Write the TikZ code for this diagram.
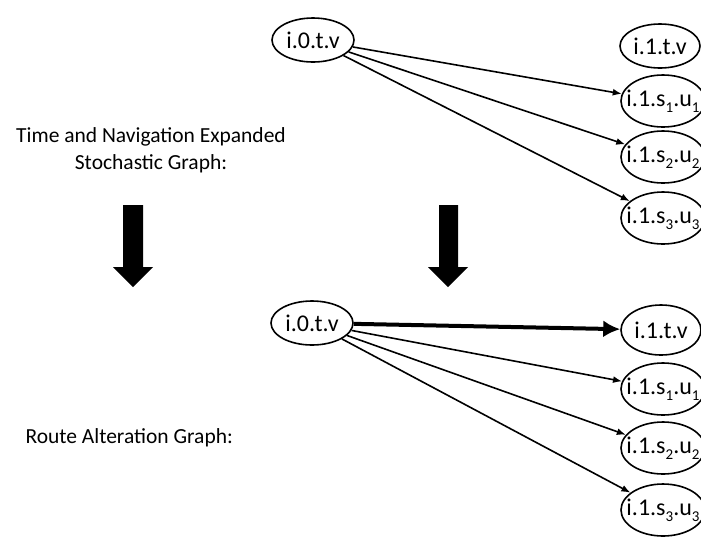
\documentclass[tikz,border=0pt]{standalone}
\usepackage{fontspec}
\setmainfont{Carlito}
\usetikzlibrary{shapes.geometric,arrows.meta}
\newcommand{\lowidx}[1]{\raisebox{-0.5ex}{\fontsize{15}{15}\selectfont #1}}
\begin{document}
\begin{tikzpicture}[x=1pt,y=-1pt,
  % the ellipse keeps its fixed size; the text sits on top as a centred label
  nd/.style={ellipse,draw,line width=1.6pt,inner sep=0pt,
    label={[font=\fontsize{24}{26}\selectfont,inner sep=0pt]center:#1}},
  st/.style={nd=#1,minimum width=82pt,minimum height=44pt},
  tv/.style={nd=#1,minimum width=80pt,minimum height=44pt},
  su/.style={nd=#1,minimum width=84pt,minimum height=52pt},
  edge/.style={line width=1.6pt,-{Latex[length=9pt,width=7pt]}},
  heavy/.style={line width=4pt,-{Latex[length=17pt,width=17pt]}},
  lbl/.style={font=\fontsize{21.5}{27}\selectfont,align=center},
  block/.style={fill=black}]
\useasboundingbox (0,0) rectangle (701,542);
\clip (0,0) rectangle (701,542);

% upper graph
\node[st={i.0.t.v}] (a0) at (313,40) {};
\node[tv={i.1.t.v}] (a1) at (660,46) {};
\node[su={i.1.s\lowidx{1}.u\lowidx{1}}] (as1) at (663,101) {};
\node[su={i.1.s\lowidx{2}.u\lowidx{2}}] (as2) at (663,157) {};
\node[su={i.1.s\lowidx{3}.u\lowidx{3}}] (as3) at (663,218) {};
\draw[edge] (a0) -- (as1);
\draw[edge] (a0) -- (as2);
\draw[edge] (a0) -- (as3);

% lower graph
\node[st={i.0.t.v}] (b0) at (312,323) {};
\node[tv={i.1.t.v},minimum height=50pt] (b1) at (661,330) {};
\node[su={i.1.s\lowidx{1}.u\lowidx{1}}] (bs1) at (663,389) {};
\node[su={i.1.s\lowidx{2}.u\lowidx{2}}] (bs2) at (663,448) {};
\node[su={i.1.s\lowidx{3}.u\lowidx{3}}] (bs3) at (663,510) {};
\draw[heavy] (b0) -- (b1);
\draw[edge] (b0) -- (bs1);
\draw[edge] (b0) -- (bs2);
\draw[edge] (b0) -- (bs3);

% labels
\node[lbl] (t1) at (151,150) {Time and Navigation Expanded\\Stochastic Graph:};
\node[lbl,anchor=west] (t2) at (22,438) {Route Alteration Graph:};

% block arrows
\fill[block] (123,205) -- (143,205) -- (143,267) -- (153,267) -- (133,287) -- (113,267) -- (123,267) -- cycle;
\fill[block] (439,205) -- (458,205) -- (458,267) -- (468,267) -- (448,287) -- (428,267) -- (439,267) -- cycle;
\end{tikzpicture}
\end{document}
